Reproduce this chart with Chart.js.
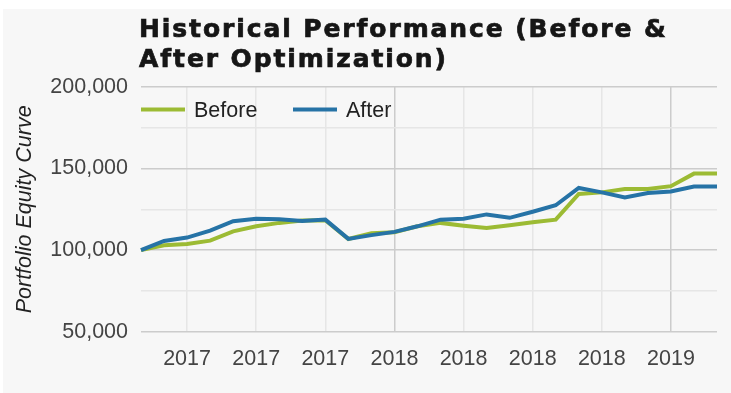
<!DOCTYPE html>
<html>
<head>
<meta charset="utf-8">
<title>Historical Performance</title>
<script src="https://cdn.jsdelivr.net/npm/chart.js"></script>
<style>
    html, body { margin: 0; padding: 0; background: #ffffff; }
    #wrap {
        position: absolute;
        left: 3px;
        top: 9px;
        width: 728px;
        height: 384px;
        background: #f7f7f7;
    }
</style>
</head>
<body>
<div id="wrap">
    <canvas id="equityChart" width="728" height="384"></canvas>
</div>
<script>
// monthly points, Feb 2017 - Mar 2019
const months = [
    '2017-02', '2017-03', '2017-04', '2017-05', '2017-06', '2017-07', '2017-08',
    '2017-09', '2017-10', '2017-11', '2017-12', '2018-01', '2018-02', '2018-03',
    '2018-04', '2018-05', '2018-06', '2018-07', '2018-08', '2018-09', '2018-10',
    '2018-11', '2018-12', '2019-01', '2019-02', '2019-03'
];

const beforeValues = [
    100000, 103000, 103700, 105800, 111500, 114600, 116700, 118100, 118300,
    106800, 110400, 111000, 114600, 116700, 115000, 113500, 115200, 117100,
    118700, 134400, 135400, 137500, 137500, 139200, 146900, 146900
];

const afterValues = [
    100000, 105600, 107700, 111900, 117700, 119200, 119000, 117900, 118700,
    106900, 109200, 111200, 114600, 118700, 119200, 121900, 119800, 123500,
    127500, 138100, 135400, 132300, 135000, 136000, 139000, 139000
];

const titleLines = ['Historical Performance (Before &', 'After Optimization)'];
const seriesNames = ['Before', 'After'];
const seriesColors = ['#9cbb34', '#2673a6'];

const tickFont = { family: '"Liberation Sans", Arial, sans-serif', size: 21.5 };

// title + inline legend, drawn by hand so they can sit where the original has them
const overlay = {
    id: 'overlay',
    afterDraw(chart) {
        const ctx = chart.ctx;
        const left = chart.chartArea.left;

        ctx.save();
        ctx.fillStyle = '#161616';
        ctx.strokeStyle = '#161616';
        ctx.lineWidth = 0.7;
        ctx.font = 'bold 25px "DejaVu Sans", sans-serif';
        ctx.letterSpacing = '1.9px';
        ctx.textBaseline = 'alphabetic';
        titleLines.forEach((line, i) => {
            ctx.fillText(line, left - 2, 28.3 + i * 29.4);
            ctx.strokeText(line, left - 2, 28.3 + i * 29.4);
        });
        ctx.restore();

        ctx.save();
        ctx.font = '21.5px "Liberation Sans", Arial, sans-serif';
        ctx.textBaseline = 'alphabetic';
        let x = left;
        seriesNames.forEach((name, i) => {
            ctx.strokeStyle = seriesColors[i];
            ctx.lineWidth = 4;
            ctx.beginPath();
            ctx.moveTo(x, 100.5);
            ctx.lineTo(x + 44, 100.5);
            ctx.stroke();
            ctx.fillStyle = '#222222';
            ctx.fillText(name, x + 53, 108.3);
            x += 152;
        });
        ctx.restore();
    }
};

const ctx = document.getElementById('equityChart').getContext('2d');
new Chart(ctx, {
    type: 'line',
    data: {
        labels: months,
        datasets: [{
            label: seriesNames[0],
            data: beforeValues,
            borderColor: seriesColors[0],
            backgroundColor: seriesColors[0],
            borderWidth: 4,
            pointRadius: 0,
            tension: 0,
            order: 1
        }, {
            label: seriesNames[1],
            data: afterValues,
            borderColor: seriesColors[1],
            backgroundColor: seriesColors[1],
            borderWidth: 4,
            pointRadius: 0,
            tension: 0,
            order: 0
        }]
    },
    options: {
        responsive: false,
        animation: false,
        layout: {
            padding: { top: 78, right: 14, left: 0, bottom: 0 }
        },
        plugins: {
            legend: { display: false },
            title: { display: false },
            tooltip: { enabled: false }
        },
        scales: {
            x: {
                border: { display: false },
                grid: {
                    drawTicks: false,
                    lineWidth: 1.5,
                    color: (c) => {
                        if (c.index % 3 !== 2) return 'rgba(0,0,0,0)';
                        return months[c.index].endsWith('-01') ? '#cccccc' : '#e6e6e6';
                    }
                },
                ticks: {
                    autoSkip: false,
                    maxRotation: 0,
                    padding: 14,
                    color: '#444444',
                    font: tickFont,
                    callback: (value, index) => index % 3 === 2 ? months[index].slice(0, 4) : ''
                },
                afterFit: (scale) => { scale.height = 61.3; }
            },
            y: {
                min: 50000,
                max: 200000,
                border: { display: false },
                grid: {
                    drawTicks: false,
                    lineWidth: 1.5,
                    color: (c) => c.tick.value % 50000 === 0 ? '#cccccc' : '#e6e6e6'
                },
                ticks: {
                    stepSize: 25000,
                    padding: 13,
                    color: '#444444',
                    font: tickFont,
                    callback: (value) => value % 50000 === 0 ? value.toLocaleString('en-US') : ''
                },
                title: {
                    display: true,
                    text: 'Portfolio Equity Curve',
                    color: '#222222',
                    font: { family: '"Liberation Sans", Arial, sans-serif', size: 21.5, style: 'italic' },
                    padding: { top: 9, bottom: 0 }
                },
                afterFit: (scale) => { scale.width = 138; }
            }
        }
    },
    plugins: [overlay]
});
</script>
</body>
</html>
